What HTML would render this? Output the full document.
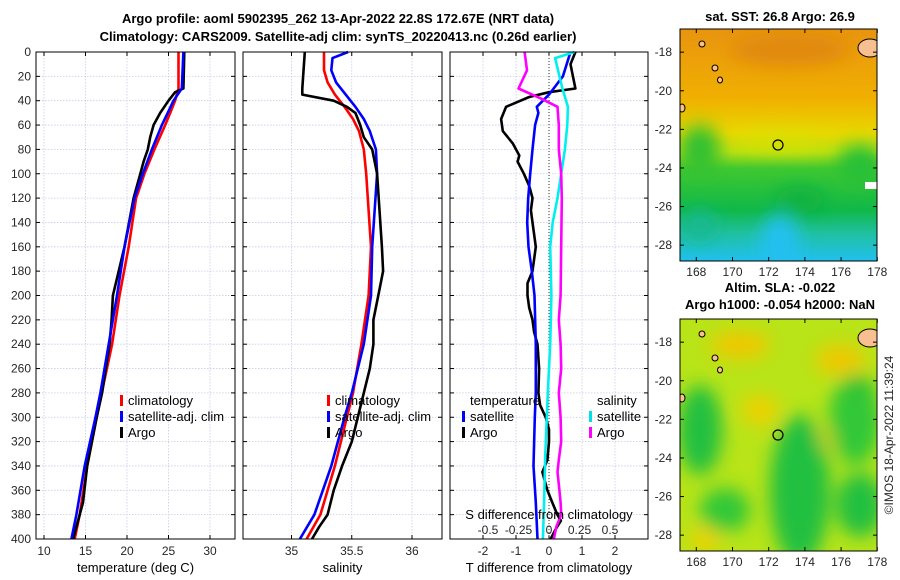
<!DOCTYPE html>
<html><head><meta charset="utf-8"><style>
body{margin:0;background:#fff;}
svg{display:block;font-family:"Liberation Sans","DejaVu Sans",sans-serif;}
.tk{font-size:12px;fill:#262626;}
.tt{font-size:13px;font-weight:bold;fill:#000;}
.lg{font-size:13px;fill:#000;}
</style></head><body>
<svg id="fig" width="900" height="580" viewBox="0 0 900 580">
<defs>
<linearGradient id="sstg" x1="0" y1="0" x2="0" y2="1">
<stop offset="0" stop-color="#e89410"/><stop offset="0.3" stop-color="#f0b000"/>
<stop offset="0.45" stop-color="#e8d800"/><stop offset="0.53" stop-color="#b8e010"/>
<stop offset="0.6" stop-color="#40c830"/><stop offset="0.78" stop-color="#10b848"/>
<stop offset="0.88" stop-color="#20c0a0"/><stop offset="1" stop-color="#20c0f0"/>
</linearGradient>
<filter id="blur"><feGaussianBlur stdDeviation="9"/></filter>
<clipPath id="c1"><rect x="680" y="29" width="197" height="232"/></clipPath>
<clipPath id="c2"><rect x="680" y="319" width="197" height="232"/></clipPath>
</defs>
<text class="tt" x="338" y="23" text-anchor="middle">Argo profile: aoml 5902395_262 13-Apr-2022 22.8S 172.67E (NRT data)</text>
<text class="tt" x="338" y="41" text-anchor="middle">Climatology: CARS2009. Satellite-adj clim: synTS_20220413.nc (0.26d earlier)</text>
<g id="panels"></g>
<g>
<text class="tt" x="780" y="21" text-anchor="middle">sat. SST: 26.8 Argo: 26.9</text>
<g clip-path="url(#c1)">
<rect x="680" y="29" width="197" height="232" fill="url(#sstg)"/>
<g filter="url(#blur)">
<ellipse cx="700" cy="150" rx="20" ry="25" fill="#30c030"/>
<ellipse cx="860" cy="165" rx="22" ry="20" fill="#28c038"/>
<ellipse cx="780" cy="140" rx="40" ry="8" fill="#d8e000"/>
<ellipse cx="800" cy="200" rx="25" ry="12" fill="#10b040"/>
<ellipse cx="780" cy="245" rx="20" ry="30" fill="#20c0f0"/>
<ellipse cx="700" cy="225" rx="18" ry="15" fill="#18b890"/>
<ellipse cx="790" cy="50" rx="60" ry="15" fill="#e08810"/>
</g>
<rect x="865" y="182" width="12" height="7" fill="#fff"/>
<ellipse cx="870" cy="48" rx="12" ry="9" fill="#f8c090" stroke="#000"/>
<ellipse cx="702" cy="44" rx="3" ry="3" fill="#f8c090" stroke="#000"/>
<ellipse cx="715" cy="68" rx="3" ry="3" fill="#f8c090" stroke="#000"/>
<ellipse cx="720" cy="80" rx="2.5" ry="3" fill="#f8c090" stroke="#000"/>
<ellipse cx="682" cy="108" rx="3" ry="4" fill="#f8c090" stroke="#000"/>
<circle cx="778" cy="145" r="5" fill="none" stroke="#000" stroke-width="1.2"/>
</g>
<rect x="680" y="29" width="197" height="232" fill="none" stroke="#000" stroke-width="1"/>
<g id="ax1"></g>
</g>
<g>
<text class="tt" x="780" y="292" text-anchor="middle">Altim. SLA: -0.022</text>
<text class="tt" x="780" y="309" text-anchor="middle">Argo h1000: -0.054 h2000: NaN</text>
<g clip-path="url(#c2)">
<rect x="680" y="319" width="197" height="232" fill="#b8e418"/>
<g filter="url(#blur)">
<ellipse cx="740" cy="345" rx="30" ry="14" fill="#f0c800"/>
<ellipse cx="840" cy="360" rx="25" ry="15" fill="#f0c800"/>
<ellipse cx="760" cy="410" rx="18" ry="15" fill="#f0d000"/>
<ellipse cx="820" cy="440" rx="20" ry="12" fill="#e8d800"/>
<ellipse cx="700" cy="430" rx="22" ry="45" fill="#20c040"/>
<ellipse cx="800" cy="490" rx="30" ry="75" fill="#20c040"/>
<ellipse cx="855" cy="420" rx="26" ry="45" fill="#30c838"/>
<ellipse cx="860" cy="505" rx="24" ry="32" fill="#20c040"/>
<ellipse cx="725" cy="510" rx="25" ry="22" fill="#30c838"/>
<ellipse cx="860" cy="385" rx="14" ry="10" fill="#30c030"/>
<ellipse cx="705" cy="540" rx="15" ry="12" fill="#f0d000"/>
</g>
<ellipse cx="870" cy="338" rx="12" ry="9" fill="#f8c090" stroke="#000"/>
<ellipse cx="702" cy="334" rx="3" ry="3" fill="#f8c090" stroke="#000"/>
<ellipse cx="715" cy="358" rx="3" ry="3" fill="#f8c090" stroke="#000"/>
<ellipse cx="720" cy="370" rx="2.5" ry="3" fill="#f8c090" stroke="#000"/>
<ellipse cx="682" cy="398" rx="3" ry="4" fill="#f8c090" stroke="#000"/>
<circle cx="778" cy="435" r="5" fill="none" stroke="#000" stroke-width="1.2"/>
</g>
<rect x="680" y="319" width="197" height="232" fill="none" stroke="#000" stroke-width="1"/>
<g id="ax2"></g>
</g>
<text class="tk" transform="translate(893,435) rotate(-90)" text-anchor="middle" font-size="12">©IMOS 18-Apr-2022 11:39:24</text>
</svg>
<script>
// ---- data ----
const depthTicks=[0,20,40,60,80,100,120,140,160,180,200,220,240,260,280,300,320,340,360,380,400];
const tDepth=[0,30,40,50,60,80,100,120,160,200,240,280,300,340,380,400];
const tClim=[26.2,26.2,25.8,25.2,24.6,23.3,22.1,21.1,20.2,19.1,18.2,16.95,16.35,15.2,14.3,13.7];
const tSat=[26.8,26.6,25.6,24.9,24.2,23.0,21.9,20.9,19.7,18.8,17.8,16.8,16.2,14.9,13.9,13.3];
const aDepth=[0,30,33,40,50,60,70,80,90,100,120,160,200,220,240,260,280,300,340,370,380,390,400];
const tArgo=[26.9,26.8,25.8,25.0,24.0,23.2,22.8,22.5,22.0,21.6,20.8,19.7,18.3,18.15,17.9,17.45,17.0,16.35,15.2,14.7,14.3,13.9,13.5];
const sDepth=[0,5,15,25,35,45,55,65,80,100,160,200,240,280,300,340,380,400];
const sClim=[35.27,35.27,35.27,35.30,35.36,35.44,35.51,35.56,35.60,35.62,35.66,35.64,35.58,35.51,35.46,35.36,35.24,35.125];
const sSat=[35.47,35.34,35.33,35.37,35.45,35.53,35.60,35.65,35.70,35.71,35.67,35.66,35.60,35.50,35.44,35.33,35.19,35.07];
const sArgoDepth=[0,30,35,40,45,50,60,70,80,100,160,180,200,220,240,260,280,300,320,340,360,380,390,400];
const sArgo=[35.11,35.09,35.09,35.35,35.46,35.53,35.57,35.60,35.67,35.71,35.75,35.76,35.72,35.68,35.68,35.65,35.60,35.55,35.50,35.42,35.35,35.30,35.23,35.17];
const dDepth=[0,10,30,33,37,45,55,65,75,85,90,100,110,120,130,140,160,180,190,200,210,220,230,240,260,280,290,300,310,320,335,345,350,360,370,380,385,392,400];
const dTArgo=[0.8,0.65,0.8,0.0,-0.6,-1.3,-1.45,-1.4,-1.1,-0.9,-0.95,-0.76,-0.6,-0.5,-0.55,-0.5,-0.4,-0.5,-0.65,-0.65,-0.6,-0.5,-0.45,-0.35,-0.3,-0.32,-0.27,-0.1,0.0,0.0,-0.05,-0.2,-0.15,-0.05,0.1,0.25,0.36,0.2,0.05];
const sdDepth=[0,20,35,45,50,60,80,100,120,140,160,180,200,240,280,300,340,370,400];
const dTSat=[0.65,0.42,0.0,-0.37,-0.32,-0.42,-0.5,-0.57,-0.63,-0.66,-0.62,-0.52,-0.44,-0.4,-0.4,-0.43,-0.47,-0.4,-0.35];
const csDepth=[0,5,30,45,60,80,100,120,140,160,200,240,280,330,370,400];
const dSSat=[0.21,0.05,0.11,0.155,0.15,0.13,0.10,0.07,0.03,0.01,0.02,0.01,-0.01,-0.03,-0.04,-0.05];
const mDepth=[0,15,30,38,45,60,80,100,120,160,200,220,240,260,280,300,320,335,345,355,370,380,390,400];
const dSArgo=[-0.2,-0.18,-0.25,-0.07,0.07,0.08,0.08,0.10,0.105,0.10,0.095,0.08,0.095,0.10,0.08,0.095,0.10,0.08,0.07,0.08,0.095,0.10,0.06,0.04];
const tTicks=[10,15,20,25,30];
const sTicks=[35,35.5,36];
const dTicks=[-2,-1,0,1,2];
const sdTickLabels=["-0.5","-0.25","0","0.25","0.5"];
const sdTickVals=[-0.5,-0.25,0,0.25,0.5];
const lonTicks=[168,170,172,174,176,178];
const latTicks=[-18,-20,-22,-24,-26,-28];

const NS="http://www.w3.org/2000/svg";
const top0=52,bot0=539;
const yD=d=>top0+d*(bot0-top0)/400;
function mk(tag,attrs,parent){const e=document.createElementNS(NS,tag);for(const k in attrs)e.setAttribute(k,attrs[k]);parent.appendChild(e);return e;}
const root=document.getElementById('panels');

function panel(name,x0,x1,xs,xticks,xlabels,title){
  const g=mk('g',{},root);
  
  
  for(const d of depthTicks){mk('line',{x1:x0,x2:x1,y1:yD(d),y2:yD(d),stroke:'#c8cce8','stroke-dasharray':'1.5,1.5','stroke-width':0.8},g);}
  xticks.forEach((v,i)=>{const x=xs(v);
    mk('line',{x1:x,x2:x,y1:top0,y2:bot0,stroke:'#c8cce8','stroke-dasharray':'1.5,1.5','stroke-width':0.8},g);
    mk('line',{x1:x,x2:x,y1:bot0,y2:bot0-4,stroke:'#000'},g);mk('line',{x1:x,x2:x,y1:top0,y2:top0+4,stroke:'#000'},g);
    const t=mk('text',{x:x,y:555,'text-anchor':'middle',class:'tk'},g);t.textContent=xlabels[i];
    
    
  });
  for(const d of depthTicks){mk('line',{x1:x0,x2:x0+4,y1:yD(d),y2:yD(d),stroke:'#000'},g);mk('line',{x1:x1,x2:x1-4,y1:yD(d),y2:yD(d),stroke:'#000'},g);}
  const tt=mk('text',{x:(x0+x1)/2,y:572,'text-anchor':'middle',class:'lg'},g);tt.textContent=title;
  
  
  return g;
}
function line(g,xs,vals,depths,color,name){
  const pts=vals.map((v,i)=>xs(v).toFixed(1)+','+yD(depths[i]).toFixed(1)).join(' ');
  const p=mk('polyline',{points:pts,fill:'none',stroke:color,'stroke-width':2.6,'stroke-linejoin':'round'},g);
  
  
}
function frame(g,x0,x1){mk('rect',{x:x0,y:top0,width:x1-x0,height:bot0-top0,fill:'none',stroke:'#000','stroke-width':1},g);}
function legend(g,x,y,items,name){
  items.forEach((it,i)=>{
    if(it.c){mk('rect',{x:x,y:y+i*16-10,width:3,height:11,fill:it.c},g);}
    const t=mk('text',{x:x+8,y:y+i*16,class:'lg'},g);t.textContent=it.t;
    
    
  });
}
// panel 1
const xT=v=>44+(v-10)*8.3;
const g1=panel('temperature-panel',36,235,xT,tTicks,tTicks.map(String),'temperature (deg C)');
for(const d of depthTicks){const t=mk('text',{x:31,y:yD(d)+4,'text-anchor':'end',class:'tk'},g1);t.textContent=d;
  
  }
line(g1,xT,tClim,tDepth,'#ff0000','temp-climatology-line');
line(g1,xT,tArgo,aDepth,'#000000','temp-argo-line');
line(g1,xT,tSat,tDepth,'#0000ff','temp-satellite-line');
frame(g1,36,235);
legend(g1,120,405,[{c:'#ff0000',t:'climatology'},{c:'#0000ff',t:'satellite-adj. clim'},{c:'#000',t:'Argo'}],'temp-legend');
// panel 2
const xS=v=>291.5+(v-35)*120.5;
const g2=panel('salinity-panel',243,442,xS,sTicks,sTicks.map(String),'salinity');
line(g2,xS,sClim,sDepth,'#ff0000','sal-climatology-line');
line(g2,xS,sSat,sDepth,'#0000ff','sal-satellite-line');
line(g2,xS,sArgo,sArgoDepth,'#000000','sal-argo-line');
frame(g2,243,442);
legend(g2,327,405,[{c:'#ff0000',t:'climatology'},{c:'#0000ff',t:'satellite-adj. clim'},{c:'#000',t:'Argo'}],'sal-legend');
// panel 3
const xDT=v=>549+v*33;
const xDS=v=>549+v*122;
const g3=panel('difference-panel',450,648,xDT,dTicks,dTicks.map(String),'T difference from climatology');
mk('line',{x1:549,x2:549,y1:top0,y2:bot0,stroke:'#333','stroke-dasharray':'1,2','stroke-width':1},g3);
line(g3,xDT,dTArgo,dDepth,'#000000','tdiff-argo-line');
line(g3,xDT,dTSat,sdDepth,'#0000ff','tdiff-satellite-line');
line(g3,xDS,dSSat,csDepth,'#00f0f0','sdiff-satellite-line');
line(g3,xDS,dSArgo,mDepth,'#ff00ff','sdiff-argo-line');
frame(g3,450,648);
legend(g3,462,405,[{t:'temperature'},{c:'#0000ff',t:'satellite'},{c:'#000',t:'Argo'}],'tdiff-legend');
legend(g3,589,405,[{t:'salinity'},{c:'#00e0e0',t:'satellite'},{c:'#ff00ff',t:'Argo'}],'sdiff-legend');
{const t=mk('text',{x:549,y:519,'text-anchor':'middle',class:'lg'},g3);t.textContent='S difference from climatology';
 
 
 sdTickVals.forEach((v,i)=>{const l=mk('text',{x:xDS(v),y:534,'text-anchor':'middle',class:'tk'},g3);l.textContent=sdTickLabels[i];
  
  });}
// map axes
function mapAxes(id,y0){
  const g=document.getElementById(id);
  const xL=v=>680+(v-167.1)*18.1, yL=v=>y0+(-16.8-v)*19.3;
  lonTicks.forEach(v=>{const x=xL(v);mk('line',{x1:x,x2:x,y1:y0+232,y2:y0+228,stroke:'#000'},g);mk('line',{x1:x,x2:x,y1:y0,y2:y0+4,stroke:'#000'},g);
    const t=mk('text',{x:x,y:y0+247,'text-anchor':'middle',class:'tk'},g);t.textContent=v;
    
    });
  latTicks.forEach(v=>{const y=yL(v);mk('line',{x1:877,x2:873,y1:y,y2:y,stroke:'#000'},g);mk('line',{x1:680,x2:684,y1:y,y2:y,stroke:'#000'},g);
    const t=mk('text',{x:672,y:y+4,'text-anchor':'end',class:'tk'},g);t.textContent=v;
    
    });
}
mapAxes('ax1',29);mapAxes('ax2',319);
</script>
</body></html>
